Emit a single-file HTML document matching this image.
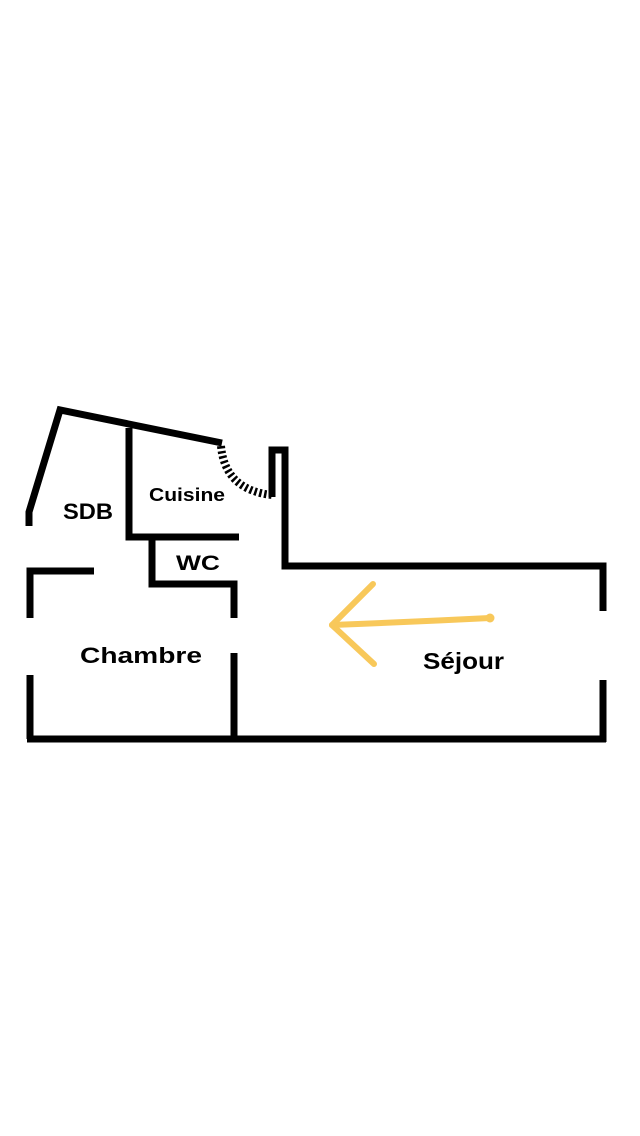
<!DOCTYPE html>
<html><head><meta charset="utf-8"><style>
html,body{margin:0;padding:0;background:#fff;width:640px;height:1136px;overflow:hidden}
svg{display:block}
text{font-family:"Liberation Sans",sans-serif;font-weight:bold;fill:#000}
</style></head><body>
<svg width="640" height="1136" viewBox="0 0 640 1136">
<g fill="none" stroke="#000" stroke-width="7" stroke-linecap="butt" stroke-linejoin="miter">
<polyline points="29,526 29,512 60,410 222,443"/>
<polyline points="129,428 129,537 239,537"/>
<polyline points="152,537 152,584 234,584 234,618"/>
<polyline points="272,497 272,450 285,450 285,566 603,566 603,611"/>
<line x1="603" y1="680" x2="603" y2="742"/>
<polyline points="27,739 606,739"/>
<polyline points="30,618 30,571 94,571"/>
<line x1="30" y1="675" x2="30" y2="739"/>
<line x1="234" y1="653" x2="234" y2="739"/>
<path d="M221,446 Q225,490 272,495" stroke-width="8" stroke-dasharray="2.5,2.5"/>
</g>
<g stroke="#f8c85a" stroke-width="6" stroke-linecap="round" fill="none">
<path d="M332,625 Q410,622 490,618"/>
<line x1="332" y1="625" x2="373" y2="584"/>
<line x1="332" y1="625" x2="374" y2="664"/>
</g>
<circle cx="490" cy="618" r="4.5" fill="#f8c85a"/>
<text x="63" y="519" font-size="22" textLength="50" lengthAdjust="spacingAndGlyphs">SDB</text>
<text x="149" y="501" font-size="18" textLength="76" lengthAdjust="spacingAndGlyphs">Cuisine</text>
<text x="176" y="570" font-size="21" textLength="44" lengthAdjust="spacingAndGlyphs">WC</text>
<text x="80" y="663" font-size="22" textLength="122" lengthAdjust="spacingAndGlyphs">Chambre</text>
<text x="423" y="669" font-size="23" textLength="81" lengthAdjust="spacingAndGlyphs">Séjour</text>
</svg>
</body></html>
